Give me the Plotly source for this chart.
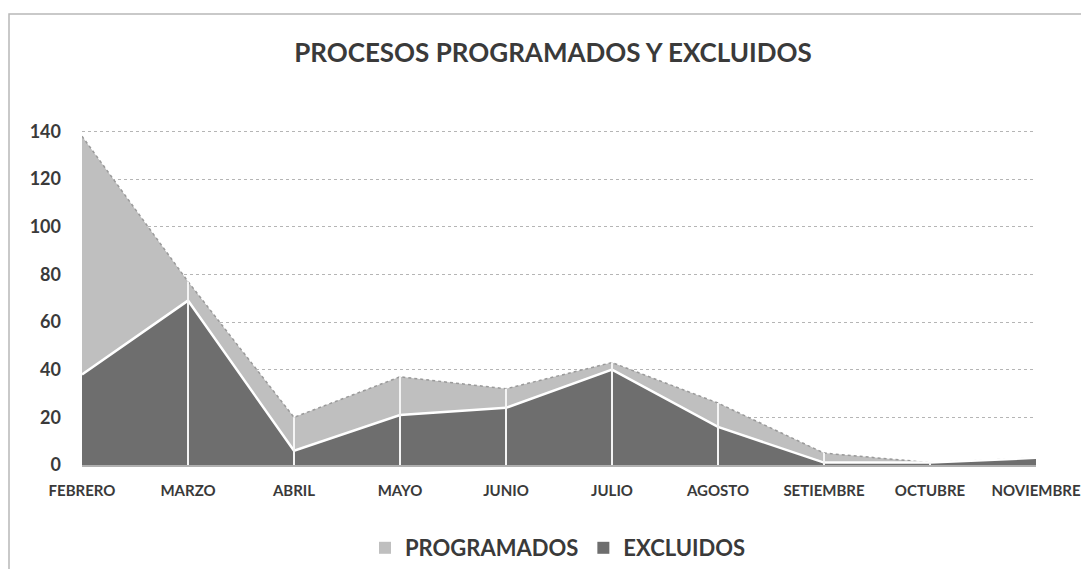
import plotly.graph_objects as go

meses = ["FEBRERO", "MARZO", "ABRIL", "MAYO", "JUNIO", "JULIO",
         "AGOSTO", "SETIEMBRE", "OCTUBRE", "NOVIEMBRE"]
programados = [138, 77, 20, 37, 32, 43, 26, 5, 1, 3]
excluidos = [38, 69, 6, 21, 24, 40, 16, 1, 1, 3]
y_ticks = [0, 20, 40, 60, 80, 100, 120, 140]

FONT = "Lato"
TXT = "#3a3a3a"
C_PROG = "#bfbfbf"
C_EXCL = "#6e6e6e"

W, H = 1081, 561  # page body has an 8px margin
L, R, T, B = 74, 53, 122, 104
PW, PH = W - L - R, H - T - B

fig = go.Figure()

fig.add_trace(go.Scatter(
    x=meses, y=programados, name="PROGRAMADOS", mode="lines",
    fill="tozeroy", fillcolor=C_PROG, showlegend=False,
    line=dict(color="#9a9a9a", width=1.5, dash="dot"),
))
fig.add_trace(go.Scatter(
    x=meses, y=excluidos, name="EXCLUIDOS", mode="lines",
    fill="tozeroy", fillcolor=C_EXCL, showlegend=False,
    line=dict(color="#ffffff", width=2.5),
))

# white drop lines at interior categories
dx, dy = [], []
for m, p in zip(meses[1:-1], programados[1:-1]):
    dx += [m, m, None]
    dy += [0, p, None]
fig.add_trace(go.Scatter(x=dx, y=dy, mode="lines", showlegend=False,
                         hoverinfo="skip",
                         line=dict(color="#f4f4f4", width=2)))

# legend entries as small squares
for nm, col in [("PROGRAMADOS", C_PROG), ("EXCLUIDOS", C_EXCL)]:
    fig.add_trace(go.Scatter(x=[None], y=[None], name=nm, mode="markers",
                             marker=dict(symbol="square", size=12, color=col)))

fig.update_layout(
    width=W, height=H,
    paper_bgcolor="white", plot_bgcolor="white",
    margin=dict(l=L, r=R, t=T, b=B, autoexpand=False),
    title=dict(text="PROCESOS PROGRAMADOS Y EXCLUIDOS",
               x=(553 - 8) / W, xanchor="center",
               y=1 - (53 - 8) / H, yanchor="middle",
               font=dict(family=FONT, size=26, color=TXT, weight="bold")),
    xaxis=dict(type="category", range=[0, len(meses) - 1],
               showgrid=False, showline=True, linecolor="#b0b0b0",
               linewidth=1.5, ticks="", ticklabelstandoff=11,
               tickfont=dict(family=FONT, size=15, color=TXT, weight="bold"),
               zeroline=False, automargin=False),
    yaxis=dict(range=[0, 140.6], tickvals=y_ticks,
               showgrid=True, gridcolor="#b5b5b5", griddash="dot",
               gridwidth=1, zeroline=False, showline=False, ticks="",
               ticklabelstandoff=20, automargin=False,
               tickfont=dict(family=FONT, size=18, color=TXT, weight="bold")),
    legend=dict(orientation="h", x=(558 - 8) / W, xanchor="center",
                xref="container", yref="container",
                y=1 - (548 - 8) / H, yanchor="middle",
                font=dict(family=FONT, size=22, color=TXT, weight="bold"),
                itemwidth=30, traceorder="normal"),
    showlegend=True,
    shapes=[dict(type="rect", xref="paper", yref="paper",
                 x0=-(L - 1) / PW, x1=1 + (R + 20) / PW,
                 y0=-(B + 20) / PH, y1=1 + (T - 6) / PH,
                 line=dict(color="#b8b8b8", width=1.5), layer="below")],
)

fig.write_html("out.html")
